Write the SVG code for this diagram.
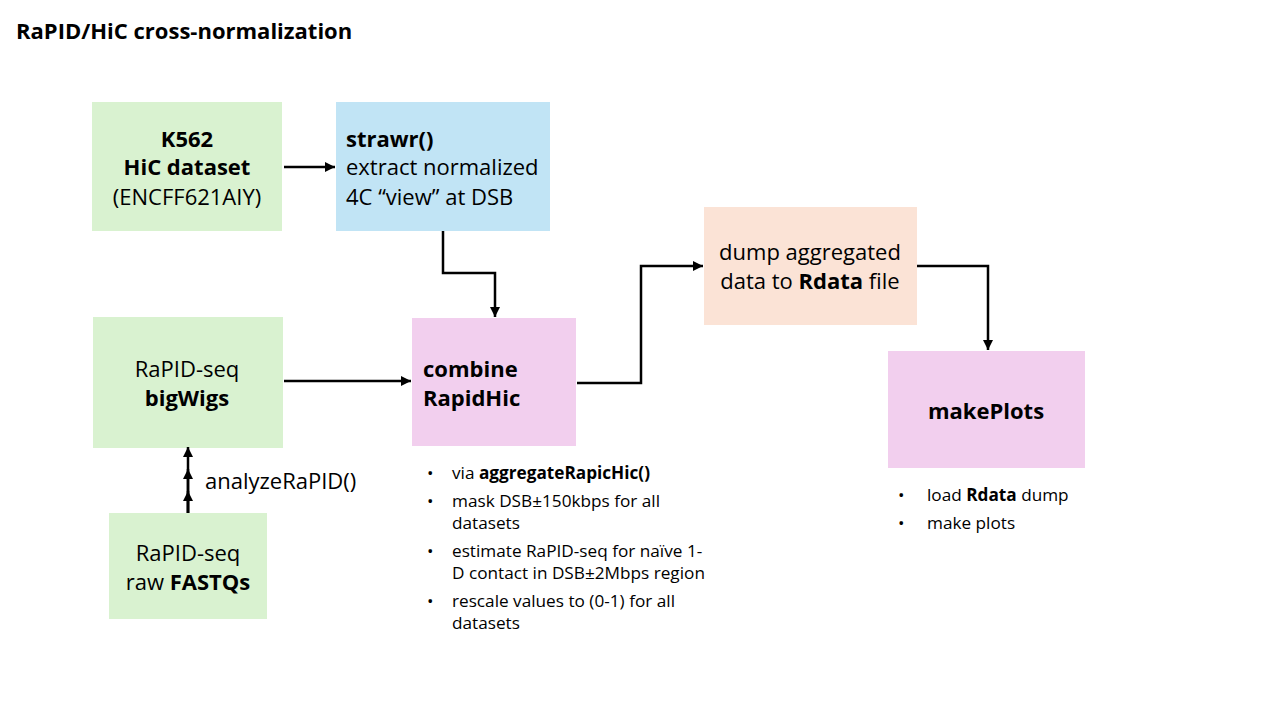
<svg xmlns="http://www.w3.org/2000/svg" width="1280" height="720" viewBox="0 0 1280 720">
<defs>
<marker id="ah" viewBox="0 0 10 10" refX="10" refY="5" markerWidth="4" markerHeight="4" orient="auto" markerUnits="strokeWidth">
<path d="M0,0 L10,5 L0,10 z" fill="#000"/>
</marker>
<style>
text{font-family:"Open Sans","Liberation Sans",Arial,sans-serif;fill:#000}
.t{font-size:22px}
.s{font-size:17.2px}
.b{font-weight:bold}
.c{text-anchor:middle}
.green{fill:#d9f2d0}
.blue{fill:#c1e4f5}
.pink{fill:#f2cfee}
.peach{fill:#fbe3d6}
.con{fill:none;stroke:#000;stroke-width:2.5;marker-end:url(#ah)}
</style>
</defs>
<rect width="1280" height="720" fill="#fff"/>
<text x="16" y="39" class="t b">RaPID/HiC cross-normalization</text>

<g id="k562">
<rect x="92" y="102" width="190" height="129" class="green"/>
<text x="187" y="147" class="t b c">K562</text>
<text x="187" y="175" class="t b c">HiC dataset</text>
<text x="187" y="205" class="t c">(ENCFF621AIY)</text>
</g>

<g id="strawr">
<rect x="336" y="102" width="214" height="129" class="blue"/>
<text x="346" y="147" class="t b">strawr()</text>
<text x="346" y="175" class="t">extract normalized</text>
<text x="346" y="205" class="t">4C “view” at DSB</text>
</g>

<g id="bigwigs">
<rect x="93" y="317" width="190" height="131" class="green"/>
<text x="187" y="377" class="t c">RaPID-seq</text>
<text x="187" y="406" class="t b c">bigWigs</text>
</g>

<g id="fastqs">
<rect x="109" y="513" width="158" height="106" class="green"/>
<text x="188" y="561" class="t c">RaPID-seq</text>
<text x="188" y="590" class="t c">raw <tspan class="b">FASTQs</tspan></text>
</g>

<g id="combine">
<rect x="412" y="318" width="164" height="128" class="pink"/>
<text x="423" y="377" class="t b">combine</text>
<text x="423" y="406" class="t b">RapidHic</text>
<text x="427" y="479" class="s">•</text>
<text x="452" y="479" class="s">via <tspan class="b">aggregateRapicHic()</tspan></text>
<text x="427" y="507" class="s">•</text>
<text x="452" y="507" class="s">mask DSB±150kbps for all</text>
<text x="452" y="529" class="s">datasets</text>
<text x="427" y="557" class="s">•</text>
<text x="452" y="557" class="s">estimate RaPID-seq for naïve 1-</text>
<text x="452" y="579" class="s">D contact in DSB±2Mbps region</text>
<text x="427" y="607" class="s">•</text>
<text x="452" y="607" class="s">rescale values to (0-1) for all</text>
<text x="452" y="629" class="s">datasets</text>
</g>

<g id="dump">
<rect x="704" y="207" width="213" height="118" class="peach"/>
<text x="810" y="260" class="t c">dump aggregated</text>
<text x="810" y="289" class="t c">data to <tspan class="b">Rdata</tspan> file</text>
</g>

<g id="makeplots">
<rect x="888" y="351" width="197" height="117" class="pink"/>
<text x="986" y="419" class="t b c">makePlots</text>
<text x="898" y="501" class="s">•</text>
<text x="927" y="501" class="s">load <tspan class="b">Rdata</tspan> dump</text>
<text x="898" y="529" class="s">•</text>
<text x="927" y="529" class="s">make plots</text>
</g>

<g id="connectors">
<path class="con" d="M284,167 H335"/>
<path class="con" d="M443,231 V273 H495 V317"/>
<path class="con" d="M284,381 H411"/>
<path class="con" d="M577,383 H641 V266 H703"/>
<path class="con" d="M917,266 H988 V350"/>
<path class="con" d="M188,513 V491"/>
<path class="con" d="M188,513 V469"/>
<path class="con" d="M188,513 V447"/>
<text x="205" y="489" class="t">analyzeRaPID()</text>
</g>
</svg>
